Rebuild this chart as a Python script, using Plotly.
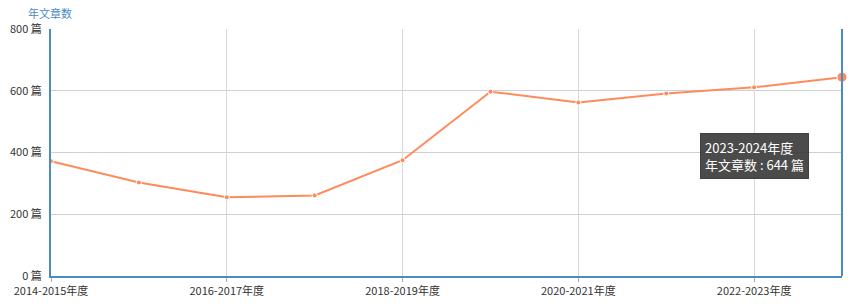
import plotly.graph_objects as go

categories = ["2014-2015年度", "2015-2016年度", "2016-2017年度", "2017-2018年度",
              "2018-2019年度", "2019-2020年度", "2020-2021年度", "2021-2022年度",
              "2022-2023年度", "2023-2024年度"]
articles = [372, 303, 255, 261, 375, 597, 562, 591, 611, 644]
y_ticks = [0, 200, 400, 600, 800]
series_name = "年文章数"
unit = "篇"

line_color = "#FF8A5B"
axis_blue = "#4A8CC6"
font_family = "Microsoft YaHei, Noto Sans CJK SC, Arial, sans-serif"

sizes = [5] * (len(articles) - 1) + [10]

fig = go.Figure()
fig.add_trace(go.Scatter(
    x=categories, y=articles, mode="lines+markers",
    line=dict(color=line_color, width=2),
    marker=dict(color=line_color, size=sizes, opacity=1),
    name=series_name, showlegend=False, cliponaxis=False,
))

fig.update_layout(
    width=862, height=306,
    margin=dict(l=51, r=20, t=29, b=30, autoexpand=False),
    paper_bgcolor="white", plot_bgcolor="white",
    font=dict(family=font_family, size=11, color="#333333"),
    xaxis=dict(
        type="category", range=[0, len(categories) - 1], automargin=False,
        tickvals=categories[::2], ticktext=categories[::2],
        showgrid=True, gridcolor="#D9D9D9", gridwidth=1,
        showline=True, linecolor=axis_blue, linewidth=2, mirror=False,
        ticks="outside", ticklen=4, tickcolor="#AAAAAA",
        tickfont=dict(size=11, color="#333333"), zeroline=False,
    ),
    yaxis=dict(
        range=[0, 800], automargin=False,
        tickvals=y_ticks, ticktext=[f"{v} {unit}" for v in y_ticks],
        showgrid=True, gridcolor="#D0D0D0", gridwidth=1,
        showline=True, linecolor=axis_blue, linewidth=2,
        ticks="outside", ticklen=5, tickcolor="rgba(0,0,0,0)",
        tickfont=dict(size=11, color="#333333"), zeroline=False,
    ),
)

# right border line
fig.add_shape(type="line", xref="paper", yref="paper", x0=1, x1=1, y0=0, y1=1,
              line=dict(color=axis_blue, width=2))

# axis title
fig.add_annotation(text=series_name, xref="paper", yref="paper",
                   x=-0.031, y=1.0, xanchor="left", yanchor="bottom", yshift=6,
                   showarrow=False, font=dict(size=11, color=axis_blue))

# tooltip mimic
fig.add_annotation(
    text=f"{categories[-1]}<br>{series_name} : {articles[-1]} {unit}",
    xref="paper", yref="paper", x=0.821, y=0.58, xanchor="left", yanchor="top",
    showarrow=False, align="left", bgcolor="rgba(50,50,50,0.88)",
    bordercolor="rgba(50,50,50,0.88)", borderpad=4,
    font=dict(size=13, color="white"),
)

fig.write_html("out.html")
